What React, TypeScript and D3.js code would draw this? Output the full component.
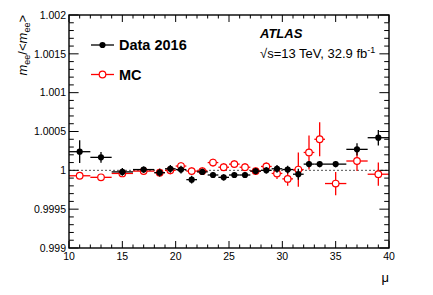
import React from "react";
import * as d3 from "d3";

// ---- data ----
const binLo = [10, 12, 14, 16, 18, 19, 20, 21, 22, 23, 24, 25, 26, 27, 28, 29, 30, 31, 32, 33, 34, 36, 38];
const binHi = [12, 14, 16, 18, 19, 20, 21, 22, 23, 24, 25, 26, 27, 28, 29, 30, 31, 32, 33, 34, 36, 38, 40];
const dataVal = [1.00024, 1.000167, 0.99998, 1.00001, 0.99997, 1.00002, 1.00001, 0.99988, 0.99998, 0.99994, 0.99991, 0.99994, 0.99994, 0.99999, 1.0, 1.00002, 1.00001, 0.99995, 1.00008, 1.00008, 1.00008, 1.00027, 1.00042];
const dataErr = [0.000146, 0.00007, 0.00005, 0.00004, 0.00005, 0.00005, 0.00005, 0.00005, 0.00004, 0.00004, 0.00004, 0.00004, 0.00004, 0.00004, 0.00004, 0.00005, 0.00005, 0.00007, 0.00004, 0.00004, 0.00004, 0.00008, 0.0001];
const mcVal = [0.99993, 0.99991, 0.99996, 0.99999, 0.99997, 1.0, 1.000055, 0.99999, 0.99999, 1.0001, 1.00004, 1.00008, 1.00004, 0.99999, 1.00005, 0.99996, 0.99989, 1.00001, 1.00023, 1.0004, 0.99983, 1.00012, 0.99995];
const mcErr = [0.00003, 0.00003, 0.00004, 0.00004, 0.00005, 0.00005, 0.00005, 0.00005, 0.00005, 0.00005, 0.00005, 0.00005, 0.00005, 0.00005, 0.00005, 0.00007, 0.00009, 0.00022, 0.00022, 0.00022, 0.00015, 0.00013, 0.00015];

const yTickValues = [0.999, 0.9995, 1, 1.0005, 1.001, 1.0015, 1.002];
const yTickLabels = ["0.999", "0.9995", "1", "1.0005", "1.001", "1.0015", "1.002"];
const xTickValues = [10, 15, 20, 25, 30, 35, 40];
const xTickLabels = ["10", "15", "20", "25", "30", "35", "40"];
const seriesNames = ["Data 2016", "MC"];

const W = 433, H = 295;
const L = 69, R = 389, T = 15, B = 248;
const FONT = "'Liberation Sans', Arial, Helvetica, sans-serif";

export default function App() {
  const x = d3.scaleLinear().domain([10, 40]).range([L, R]);
  const y = d3.scaleLinear().domain([0.999, 1.002]).range([B, T]);
  const xMinor = d3.range(10, 41, 1);
  const yMinor = d3.range(0, 31).map((i) => 0.999 + i * 0.0001);
  const xMaj = 7, xMin = 3.5, yMaj = 9.6, yMin = 4.8;

  const bins = binLo.map((lo, i) => ({ lo, hi: binHi[i], c: (lo + binHi[i]) / 2 }));

  const renderSeries = (vals: number[], errs: number[], color: string, open: boolean) =>
    bins.map((b, i) => {
      const cx = x(b.c), cy = y(vals[i]);
      return (
        <g key={i}>
          <line x1={x(b.lo)} x2={x(b.hi)} y1={cy} y2={cy} stroke={color} strokeWidth={1.3} />
          <line x1={cx} x2={cx} y1={y(vals[i] - errs[i])} y2={y(vals[i] + errs[i])} stroke={color} strokeWidth={1.3} />
          {open ? (
            <circle cx={cx} cy={cy} r={3.3} fill="white" stroke={color} strokeWidth={1.2} />
          ) : (
            <circle cx={cx} cy={cy} r={3.1} fill={color} />
          )}
        </g>
      );
    });

  return (
    <svg width={W} height={H} style={{ position: "absolute", left: 0, top: 0, background: "white" }} fontFamily={FONT}>
      {/* reference line */}
      <line x1={L} x2={R} y1={y(1)} y2={y(1)} stroke="#555" strokeWidth={1} strokeDasharray="2,2" />
      {/* MC then data */}
      {renderSeries(mcVal, mcErr, "#ff0000", true)}
      {renderSeries(dataVal, dataErr, "#000000", false)}

      {/* ticks */}
      {xMinor.map((v) => {
        const big = xTickValues.includes(v);
        const len = big ? xMaj : xMin;
        return (
          <g key={"xt" + v}>
            <line x1={x(v)} x2={x(v)} y1={B} y2={B - len} stroke="black" strokeWidth={1} />
            <line x1={x(v)} x2={x(v)} y1={T} y2={T + len} stroke="black" strokeWidth={1} />
          </g>
        );
      })}
      {yMinor.map((v, i) => {
        const big = i % 5 === 0;
        const len = big ? yMaj : yMin;
        return (
          <g key={"yt" + i}>
            <line x1={L} x2={L + len} y1={y(v)} y2={y(v)} stroke="black" strokeWidth={1} />
            <line x1={R} x2={R - len} y1={y(v)} y2={y(v)} stroke="black" strokeWidth={1} />
          </g>
        );
      })}
      <rect x={L} y={T} width={R - L} height={B - T} fill="none" stroke="black" strokeWidth={1.4} />

      {/* tick labels */}
      {yTickValues.map((v, i) => (
        <text key={"yl" + i} x={L - 3} y={y(v)} dy="0.35em" textAnchor="end" fontSize={10.5}>
          {yTickLabels[i]}
        </text>
      ))}
      {xTickValues.map((v, i) => (
        <text key={"xl" + i} x={x(v)} y={B + 12} textAnchor="middle" fontSize={10.5}>
          {xTickLabels[i]}
        </text>
      ))}

      {/* axis titles */}
      <text x={R} y={282} textAnchor="end" fontSize={13}>μ</text>
      <text transform={`translate(27,${T}) rotate(-90)`} textAnchor="end" fontSize={13}>
        <tspan fontStyle="italic">m</tspan>
        <tspan fontSize={9} dy={3}>ee</tspan>
        <tspan dy={-3}>/&lt;</tspan>
        <tspan fontStyle="italic">m</tspan>
        <tspan fontSize={9} dy={3}>ee</tspan>
        <tspan dy={-3}>&gt;</tspan>
      </text>

      {/* legend */}
      <line x1={91} x2={114} y1={45} y2={45} stroke="black" strokeWidth={1.3} />
      <circle cx={102.5} cy={45} r={3.1} fill="black" />
      <text x={119} y={45} dy="0.36em" fontSize={14.5} fontWeight="bold">{seriesNames[0]}</text>
      <line x1={91} x2={114} y1={74.5} y2={74.5} stroke="#ff0000" strokeWidth={1.3} />
      <circle cx={102.5} cy={74.5} r={3.3} fill="white" stroke="#ff0000" strokeWidth={1.2} />
      <text x={119} y={74.5} dy="0.36em" fontSize={14.5} fontWeight="bold">{seriesNames[1]}</text>

      {/* ATLAS label */}
      <text x={260} y={37.5} fontSize={13} fontWeight="bold" fontStyle="italic">ATLAS</text>
      <text x={260} y={58} fontSize={13}>
        √s=13 TeV, 32.9 fb<tspan fontSize={9} dy={-5}>-1</tspan>
      </text>
    </svg>
  );
}
